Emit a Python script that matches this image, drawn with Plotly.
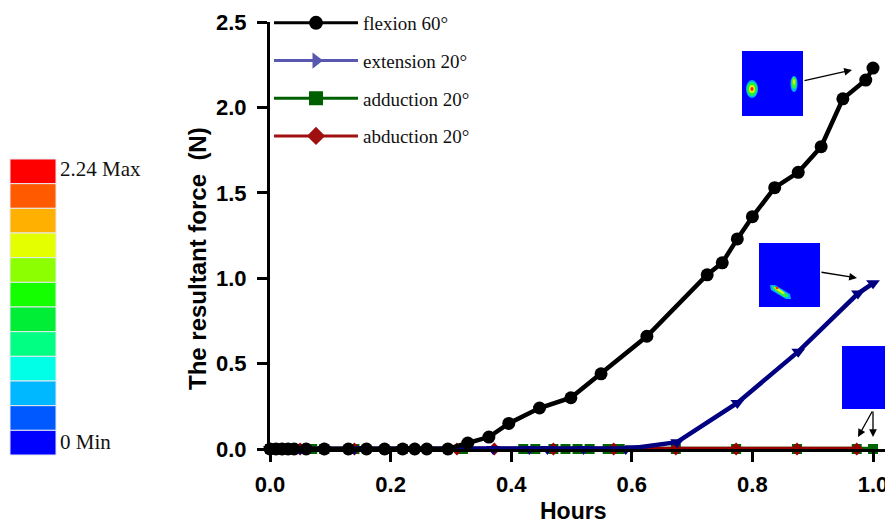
import plotly.graph_objects as go

# ---------------- data ----------------
flex_x = [0, 0.01, 0.02, 0.03, 0.04, 0.06, 0.09, 0.13, 0.16, 0.19, 0.22, 0.24, 0.26, 0.295,
          0.328, 0.363, 0.396, 0.447, 0.499, 0.549, 0.625, 0.725, 0.75, 0.775, 0.80, 0.837,
          0.876, 0.914, 0.95, 0.988, 1.0]
flex_y = [0, 0, 0, 0, 0, 0, 0, 0, 0, 0, 0, 0, 0, 0,
          0.035, 0.07, 0.15, 0.24, 0.30, 0.44, 0.66, 1.02, 1.09, 1.23, 1.36, 1.53,
          1.62, 1.77, 2.05, 2.16, 2.23]

ext_x = [0, 0.02, 0.05, 0.09, 0.14, 0.22, 0.30, 0.37, 0.43, 0.46, 0.52, 0.59, 0.60,
         0.675, 0.775, 0.876, 0.975, 1.0]
ext_y = [0, 0, 0, 0, 0, 0, 0, 0, 0, 0, 0, 0, 0.005,
         0.04, 0.27, 0.57, 0.91, 0.97]

add_x = [0, 0.01, 0.03, 0.05, 0.07, 0.09, 0.14, 0.22, 0.32, 0.42, 0.44, 0.47, 0.49,
         0.51, 0.53, 0.56, 0.58, 0.673, 0.773, 0.874, 0.973, 1.0]
add_y = [0] * len(add_x)

abd_x = [0, 0.02, 0.05, 0.09, 0.14, 0.24, 0.31, 0.372, 0.47, 0.57, 0.673, 0.773, 0.874, 0.973]
abd_y = [0] * len(abd_x)

series_names = ["flexion 60°", "extension 20°", "adduction 20°", "abduction 20°"]
x_ticks = [0.0, 0.2, 0.4, 0.6, 0.8, 1.0]
y_ticks = [0.0, 0.5, 1.0, 1.5, 2.0, 2.5]
scale_colors = ["#FF0000", "#FF5A00", "#FFB000", "#E4FF00", "#8CFF00", "#14FF00",
                "#00EE36", "#00FF82", "#00FFE6", "#00B8FF", "#0058FF", "#0000FF"]
scale_labels = ["2.24 Max", "0 Min"]

# ---------------- geometry helpers ----------------
OFF = 8                       # page body margin of the html output
PAGE_W, PAGE_H = 893, 524
W, H = PAGE_W - OFF, PAGE_H - OFF
AX_LEFT, AX_TOP, AX_BOTTOM = 270, 22, 449   # page pixels of the plot area
ML, MT = AX_LEFT - OFF, AX_TOP - OFF
MB = H - (AX_BOTTOM - OFF)
MR = 0
PW, PH = W - ML - MR, H - MT - MB
UNIT_PX = 603                 # pixels per 1.0 hour on the x axis


def px(x, y):
    """page pixel -> paper coordinates (decoration only)"""
    return (x - AX_LEFT) / PW, (AX_BOTTOM - y) / PH


fig = go.Figure()

line_w = 4.5
fig.add_trace(go.Scatter(x=add_x, y=add_y, mode="lines+markers", showlegend=False,
                         line=dict(color="#006400", width=line_w),
                         marker=dict(symbol="square", size=10, color="#006400"),
                         cliponaxis=False))
fig.add_trace(go.Scatter(x=abd_x, y=abd_y, mode="lines+markers", showlegend=False,
                         line=dict(color="#990000", width=line_w),
                         marker=dict(symbol="diamond", size=10, color="#990000"),
                         cliponaxis=False))
fig.add_trace(go.Scatter(x=ext_x, y=ext_y, mode="lines+markers", showlegend=False,
                         line=dict(color="#000080", width=line_w),
                         marker=dict(symbol="triangle-down", size=12, color="#000080"),
                         cliponaxis=False))
fig.add_trace(go.Scatter(x=flex_x, y=flex_y, mode="lines+markers", showlegend=False,
                         line=dict(color="#000000", width=line_w),
                         marker=dict(symbol="circle", size=13, color="#000000"),
                         cliponaxis=False))

# legend entries
leg_specs = [("#000000", "circle"), ("#5858B0", "triangle-right"),
             ("#006000", "square"), ("#A01010", "diamond")]
for name, (col, sym) in zip(series_names, leg_specs):
    fig.add_trace(go.Scatter(x=[None], y=[None], mode="lines+markers", name=name,
                             legendgroup=name,
                             line=dict(color=col, width=3),
                             marker=dict(symbol=sym, size=14, color=col)))

shapes = []
annotations = []

# colour scale boxes
top, bottom = 159, 455
bh = (bottom - top) / len(scale_colors)
for i, c in enumerate(scale_colors):
    x0, y0 = px(10, top + i * bh)
    x1, y1 = px(56, top + (i + 1) * bh)
    shapes.append(dict(type="rect", xref="paper", yref="paper", x0=x0, x1=x1, y0=y1, y1=y0,
                       fillcolor=c, line=dict(color="#E8E8F0", width=1), layer="above"))
for lab, py in zip(scale_labels, [169, 442]):
    ax_, ay_ = px(58, py)
    annotations.append(dict(text=lab, x=ax_, y=ay_, xref="paper", yref="paper",
                            xanchor="left", yanchor="middle", showarrow=False,
                            font=dict(family="Liberation Serif", size=21, color="#111")))


def rect(x0p, y0p, x1p, y1p, color):
    a, b = px(x0p, y0p)
    c, d = px(x1p, y1p)
    shapes.append(dict(type="rect", xref="paper", yref="paper", x0=a, x1=c, y0=d, y1=b,
                       fillcolor=color, line=dict(width=0), layer="above"))


def ell(cx, cy, rx, ry, color):
    a, b = px(cx - rx, cy - ry)
    c, d = px(cx + rx, cy + ry)
    shapes.append(dict(type="circle", xref="paper", yref="paper", x0=a, x1=c, y0=d, y1=b,
                       fillcolor=color, line=dict(width=0), layer="above"))


def poly(pts, color):
    path = "M " + " L ".join(f"{px(x, y)[0]},{px(x, y)[1]}" for x, y in pts) + " Z"
    shapes.append(dict(type="path", xref="paper", yref="paper", path=path,
                       fillcolor=color, line=dict(width=0), layer="above"))


# inset 1
rect(742, 51, 803, 116, "#0000FF")
ell(752, 89, 6, 9, "#00B0FF")
ell(752, 89, 5, 7, "#20F040")
ell(752, 89, 3, 4, "#E0FF00")
ell(752, 89, 1.5, 2, "#FF2000")
ell(794, 84, 3.5, 8, "#00B0FF")
ell(794, 83, 2.5, 6, "#30F040")
ell(794, 82, 1.2, 3, "#E0FF00")
# inset 2
rect(759, 243, 820, 307, "#0000FF")
poly([(770, 285), (775, 285), (790, 294), (791, 299), (786, 299), (771, 290)], "#00B0FF")
poly([(772, 286), (776, 287), (788, 295), (788, 297), (784, 297), (773, 289)], "#30F040")
poly([(774, 287), (778, 288), (785, 293), (783, 294), (775, 289)], "#E0FF00")
ell(777, 288, 1.5, 1.2, "#FF2000")
# inset 3
rect(842, 346, 900, 409, "#0000FF")


def arrow(x0, y0, x1, y1):
    hx, hy = px(x1, y1)
    annotations.append(dict(x=hx, y=hy, xref="paper", yref="paper", text="",
                            showarrow=True, ax=x0 - x1, ay=y0 - y1,
                            arrowhead=2, arrowsize=1.2, arrowwidth=1.3,
                            arrowcolor="#000000"))


arrow(803, 81, 852, 70)
arrow(820, 272, 857, 278)
arrow(873, 410, 858, 437)
arrow(873, 410, 873, 437)

# axis titles
tx, ty = px(573, 511)
annotations.append(dict(text="<b>Hours</b>", x=tx, y=ty, xref="paper", yref="paper",
                        showarrow=False, xanchor="center", yanchor="middle",
                        font=dict(family="Liberation Sans", size=23, color="#000")))
tx, ty = px(198, 259)
annotations.append(dict(text="<b>The resultant force\u00a0 (N)</b>", x=tx, y=ty,
                        xref="paper", yref="paper", textangle=-90,
                        showarrow=False, xanchor="center", yanchor="middle",
                        font=dict(family="Liberation Sans", size=24, color="#000")))

tick_font = dict(family="Liberation Sans", size=22, color="#000", weight="bold")

lx, ly = px(269, 4)
fig.update_layout(
    width=W, height=H,
    margin=dict(l=ML, r=MR, t=MT, b=MB, autoexpand=False),
    paper_bgcolor="white", plot_bgcolor="white",
    showlegend=True,
    legend=dict(x=lx, y=ly, xanchor="left", yanchor="top",
                bgcolor="rgba(0,0,0,0)", itemwidth=84, traceorder="grouped",
                tracegroupgap=10, itemsizing="trace",
                font=dict(family="Liberation Serif", size=19, color="#111")),
    xaxis=dict(range=[0, PW / UNIT_PX], tickvals=x_ticks,
               ticktext=[f"{v:.1f}" for v in x_ticks],
               showgrid=False, zeroline=False, showline=True, linecolor="#000", linewidth=3,
               ticks="outside", ticklen=10, tickwidth=3, tickcolor="#000",
               tickfont=tick_font, ticklabelstandoff=4),
    yaxis=dict(range=[0, 2.5], tickvals=y_ticks, ticktext=[f"{v:.1f}" for v in y_ticks],
               showgrid=False, zeroline=False, showline=True, linecolor="#000", linewidth=3,
               ticks="outside", ticklen=10, tickwidth=3, tickcolor="#000",
               tickfont=tick_font, ticklabelstandoff=6),
    shapes=shapes,
    annotations=annotations,
)

fig.write_html("out.html")
